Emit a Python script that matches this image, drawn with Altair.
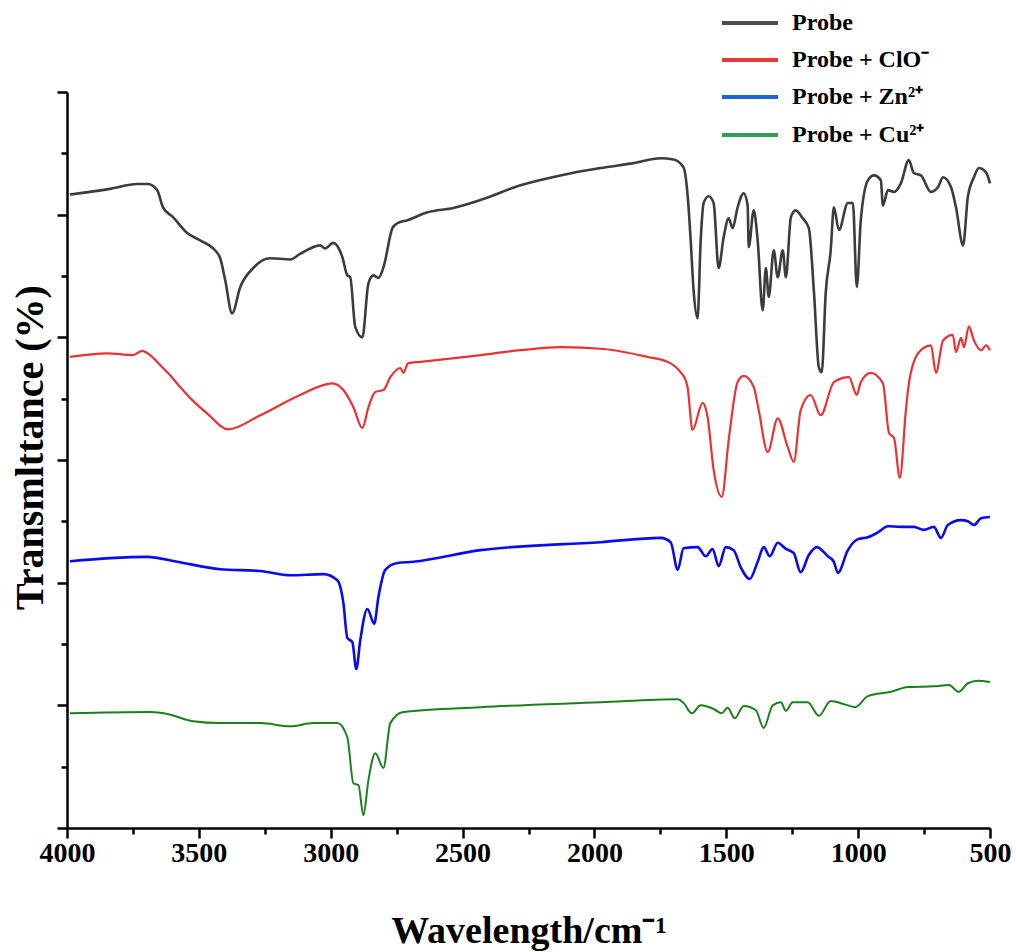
import altair as alt
import pandas as pd

# ---------------- data (wavenumber in cm-1, transmittance in arbitrary offset units) ----------------
series_names = ["Probe", "Probe + ClO⁻", "Probe + Zn²⁺", "Probe + Cu²⁺"]
line_colors = ["#3c3c3c", "#ea3232", "#0a0aef", "#1b801b"]
legend_colors = ["#4d4d4d", "#e5383b", "#1f63d8", "#2e9e5a"]
line_widths = [2.6, 2.2, 2.6, 2.0]

probe_wn = [3989, 3837, 3734, 3693, 3658, 3636, 3598, 3544, 3495, 3446, 3419, 3400, 3374, 3343, 3294,
            3229, 3153, 3116, 3040, 3021, 2990, 2956, 2937, 2926, 2907, 2880, 2857, 2838, 2819, 2800,
            2766, 2747, 2709, 2633, 2535, 2432, 2280, 2129, 1977, 1851, 1749, 1700, 1662, 1643, 1635,
            1624, 1609, 1597, 1586, 1567, 1548, 1529, 1510, 1491, 1476, 1457, 1434, 1419, 1415, 1396,
            1381, 1362, 1350, 1339, 1320, 1305, 1286, 1274, 1255, 1237, 1210, 1187, 1168, 1149, 1138,
            1123, 1104, 1092, 1073, 1039, 1020, 1005, 990, 963, 940, 914, 906, 887, 864, 838,
            808, 789, 762, 724, 697, 678, 648, 629, 602, 584, 561, 542, 515, 500]
probe_t = [103.3, 104.2, 105.0, 105.0, 104.0, 101.2, 99.6, 97.0, 95.8, 94.5, 92.9, 89.3, 83.9, 88.2, 91.3,
           92.9, 92.7, 93.6, 95.0, 94.5, 95.4, 93.1, 90.1, 89.8, 81.7, 80.0, 88.8, 90.1, 89.7, 91.4,
           97.8, 98.6, 99.1, 100.4, 101.1, 102.4, 104.8, 106.4, 107.6, 108.4, 109.2, 109.0, 107.7, 101.2, 95.8,
           87.7, 83.1, 95.8, 101.9, 103.0, 101.9, 91.3, 96.3, 99.4, 97.8, 101.2, 103.5, 101.5, 94.7, 100.7,
           95.8, 84.4, 91.3, 86.6, 94.2, 89.8, 94.2, 89.8, 99.6, 100.7, 99.4, 97.8, 87.7, 75.1, 74.3,
           87.2, 94.2, 101.2, 97.5, 101.9, 101.9, 88.2, 99.1, 105.6, 106.4, 105.6, 101.5, 104.0, 103.7, 105.1,
           108.9, 106.8, 106.4, 103.7, 104.5, 106.1, 104.5, 101.2, 95.0, 102.9, 106.1, 107.6, 106.9, 105.1]

clo_wn = [3989, 3848, 3749, 3715, 3685, 3647, 3609, 3571, 3526, 3469, 3389, 3267, 3116, 2994, 2952,
          2914, 2880, 2857, 2831, 2800, 2774, 2736, 2725, 2706, 2660, 2470, 2280, 2129, 1965, 1798,
          1722, 1673, 1654, 1647, 1628, 1590, 1571, 1548, 1517, 1491, 1457, 1434, 1396, 1377, 1343,
          1305, 1267, 1244, 1218, 1180, 1142, 1092, 1035, 1005, 990, 952, 906, 883, 864, 842,
          819, 811, 789, 754, 724, 705, 678, 641, 629, 610, 599, 580, 561, 534, 515, 500]
clo_t = [76.8, 77.4, 77.1, 77.8, 77.1, 75.5, 73.8, 71.9, 69.8, 67.6, 65.0, 67.3, 70.6, 72.5, 71.4,
         68.6, 65.2, 68.6, 71.1, 71.4, 73.5, 75.0, 74.2, 75.8, 76.0, 76.9, 77.9, 78.4, 78.1, 76.8,
         76.0, 74.3, 73.0, 71.9, 64.9, 69.3, 67.0, 58.4, 54.0, 63.2, 72.7, 73.7, 71.9, 68.1, 61.3,
         66.8, 62.1, 59.7, 68.1, 70.6, 67.3, 72.7, 73.5, 70.6, 72.7, 74.2, 72.5, 64.4, 63.6, 57.1,
         68.1, 71.4, 76.0, 78.2, 78.7, 74.2, 79.5, 80.4, 77.6, 79.9, 78.4, 81.8, 79.5, 77.9, 78.7, 77.9]

zn_wn = [3989, 3837, 3696, 3582, 3419, 3267, 3153, 3028, 2975, 2952, 2937, 2918, 2903, 2888, 2861,
         2835, 2819, 2793, 2747, 2687, 2432, 1977, 1749, 1711, 1684, 1662, 1609, 1578, 1552, 1529,
         1502, 1472, 1445, 1411, 1381, 1358, 1335, 1305, 1274, 1244, 1218, 1187, 1157, 1115, 1092,
         1077, 1039, 1001, 963, 925, 887, 838, 789, 751, 713, 686, 660, 610, 584, 561, 534, 500]
zn_t = [43.5, 44.0, 44.2, 43.4, 42.2, 41.9, 41.2, 41.4, 40.4, 36.7, 31.0, 30.3, 25.9, 30.6, 35.7,
        33.3, 37.7, 42.1, 43.2, 43.4, 45.3, 46.6, 47.3, 46.6, 42.1, 45.6, 45.8, 44.3, 45.5, 42.7,
        45.8, 45.3, 42.5, 40.6, 43.4, 45.8, 44.3, 46.5, 45.5, 44.8, 41.7, 44.5, 45.8, 44.3, 43.4,
        41.6, 45.3, 47.1, 47.4, 48.2, 49.2, 49.1, 49.1, 48.6, 49.1, 47.3, 49.4, 50.2, 50.0, 49.4, 50.5, 50.7]

cu_wn = [3989, 3685, 3620, 3522, 3419, 3267, 3153, 3066, 2975, 2937, 2914, 2895, 2876, 2857, 2831,
         2800, 2774, 2725, 2432, 1977, 1684, 1662, 1631, 1597, 1548, 1517, 1495, 1468, 1434, 1388,
         1358, 1324, 1293, 1274, 1248, 1191, 1149, 1104, 1054, 1012, 963, 876, 811, 713, 656,
         618, 584, 546, 500]
cu_t = [18.7, 18.9, 18.6, 17.4, 17.1, 17.1, 16.6, 17.1, 17.1, 14.8, 7.3, 7.0, 2.1, 7.8, 12.2,
        9.8, 17.1, 18.9, 19.7, 20.5, 21.0, 20.4, 18.7, 20.0, 19.4, 18.7, 19.6, 17.9, 19.9, 19.2,
        16.3, 20.0, 20.5, 19.1, 20.5, 20.5, 18.3, 20.7, 20.2, 19.7, 21.5, 22.2, 23.0, 23.1, 23.3,
        22.2, 23.6, 24.0, 23.8]

all_wn = [probe_wn, clo_wn, zn_wn, cu_wn]
all_t = [probe_t, clo_t, zn_t, cu_t]

x_ticks = list(range(500, 4001, 250))
y_ticks = list(range(0, 121, 10))

FONT = "Liberation Serif"

x_scale = alt.Scale(domain=[500, 4000], reverse=True, nice=False, zero=False)
y_scale = alt.Scale(domain=[0, 120], nice=False, zero=False)

x_axis = alt.Axis(
    values=x_ticks, format="d", grid=False, labelOverlap=False, labelFlush=False,
    labelExpr="datum.value % 500 === 0 ? datum.label : ''",
    tickSize={"condition": {"test": "datum.value % 500 === 0", "value": 10}, "value": 6},
    tickWidth=2.5, tickColor="black", domainColor="black", domainWidth=2.5,
    labelFont=FONT, labelFontSize=28, labelFontWeight="bold", labelColor="black", labelPadding=1,
    title="Wavelength/cm⁻¹", titleFont=FONT, titleFontSize=38, titleFontWeight="bold",
    titleColor="black", titleY=114, titleBaseline="alphabetic",
)
y_axis = alt.Axis(
    values=y_ticks, grid=False, labels=False,
    tickSize={"condition": {"test": "datum.value % 20 === 0", "value": 10}, "value": 6},
    tickWidth=2.5, tickColor="black", domainColor="black", domainWidth=2.5,
    title="Transmlttance (%)", titleFont=FONT, titleFontSize=40, titleFontWeight="bold",
    titleColor="black", titleX=-37, titleY=355, titleBaseline="middle",
)

layers = []
for name, wn, t, col, w in zip(series_names, all_wn, all_t, line_colors, line_widths):
    df = pd.DataFrame({"wn": wn, "t": t, "series": name})
    layers.append(
        alt.Chart(df).mark_line(color=col, strokeWidth=w, strokeJoin="round",
                                interpolate="monotone").encode(
            x=alt.X("wn:Q", scale=x_scale, axis=x_axis),
            y=alt.Y("t:Q", scale=y_scale, axis=y_axis),
        )
    )

# custom legend (top right, above the plot)
legend_rows = [-69, -32, 5, 43]
for name, col, yr in zip(series_names, legend_colors, legend_rows):
    one = pd.DataFrame({"label": [name]})
    layers.append(
        alt.Chart(one).mark_rule(color=col, strokeWidth=4).encode(
            x=alt.value(655), x2=alt.value(711), y=alt.value(yr)
        )
    )
    layers.append(
        alt.Chart(one).mark_text(
            align="left", baseline="middle", font=FONT, fontSize=24, fontWeight="bold", color="black"
        ).encode(x=alt.value(725), y=alt.value(yr), text="label:N")
    )

chart = alt.layer(*layers).properties(
    width=923, height=736,
    autosize=alt.AutoSizeParams(type="none"),
    padding={"left": 67, "top": 92, "right": 26, "bottom": 124},
    background="white",
).configure_view(strokeWidth=0)

chart.save("out.html", embed_options={"renderer": "svg", "actions": False})
